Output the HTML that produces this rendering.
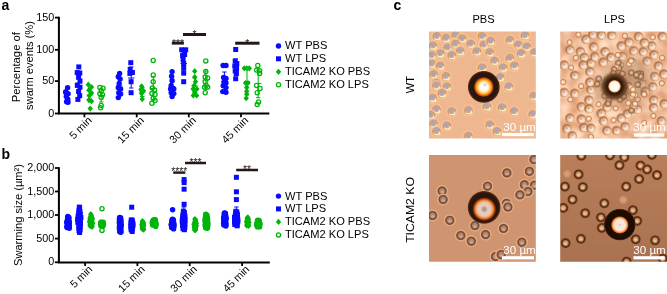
<!DOCTYPE html>
<html><head><meta charset="utf-8"><title>Figure</title>
<style>
html,body{margin:0;padding:0;background:#fff;}
body{width:667px;height:294px;overflow:hidden;}
svg{display:block;font-family:"Liberation Sans",sans-serif;fill:#000;}
</style></head><body>
<svg width="667" height="294" viewBox="0 0 667 294">
<rect width="667" height="294" fill="#fff"/>
<text x="1.6" y="9.8" font-size="14" font-weight="bold">a</text>
<path d="M58.9 16.8V113.6H269.3" stroke="#000" stroke-width="2" fill="none"/>
<path d="M54.9 17.6H58.9" stroke="#000" stroke-width="1.8"/>
<text x="54.199999999999996" y="20.6" text-anchor="end" font-size="10.8">150</text>
<path d="M54.9 49.8H58.9" stroke="#000" stroke-width="1.8"/>
<text x="54.199999999999996" y="52.8" text-anchor="end" font-size="10.8">100</text>
<path d="M54.9 81.1H58.9" stroke="#000" stroke-width="1.8"/>
<text x="54.199999999999996" y="84.1" text-anchor="end" font-size="10.8">50</text>
<path d="M54.9 113.5H58.9" stroke="#000" stroke-width="1.8"/>
<text x="54.199999999999996" y="116.5" text-anchor="end" font-size="10.8">0</text>
<path d="M84.4 113.6V117.3" stroke="#000" stroke-width="1.8"/>
<text transform="translate(92.4,121.1) rotate(-45)" text-anchor="end" font-size="10.8">5 min</text>
<path d="M136.7 113.6V117.3" stroke="#000" stroke-width="1.8"/>
<text transform="translate(144.7,121.1) rotate(-45)" text-anchor="end" font-size="10.8">15 min</text>
<path d="M188.8 113.6V117.3" stroke="#000" stroke-width="1.8"/>
<text transform="translate(196.8,121.1) rotate(-45)" text-anchor="end" font-size="10.8">30 min</text>
<path d="M241.0 113.6V117.3" stroke="#000" stroke-width="1.8"/>
<text transform="translate(249.0,121.1) rotate(-45)" text-anchor="end" font-size="10.8">45 min</text>
<text transform="translate(19.5,67.2) rotate(-90)" text-anchor="middle" font-size="11.3">Percentage of</text>
<text transform="translate(32.6,65.5) rotate(-90)" text-anchor="middle" font-size="11.1">swarm events (%)</text>
<path d="M63.8 94.5H70.2M67.0 89.0V100.0M64.8 89.0H69.2M64.8 100.0H69.2" stroke="#0a0aff" stroke-width="1" fill="none"/>
<circle cx="67.6" cy="87.8" r="2.7" fill="#0a0aff"/>
<circle cx="65.6" cy="92.0" r="2.7" fill="#0a0aff"/>
<circle cx="68.1" cy="93.8" r="2.7" fill="#0a0aff"/>
<circle cx="66.3" cy="96.6" r="2.7" fill="#0a0aff"/>
<circle cx="67.8" cy="99.2" r="2.7" fill="#0a0aff"/>
<circle cx="66.6" cy="101.8" r="2.7" fill="#0a0aff"/>
<circle cx="68.0" cy="102.3" r="2.7" fill="#0a0aff"/>
<path d="M75.5 83.0H81.9M78.7 72.5V93.5M76.5 72.5H80.9M76.5 93.5H80.9" stroke="#0a0aff" stroke-width="1" fill="none"/>
<rect x="76.3" y="64.4" width="5.0" height="5.0" fill="#0a0aff"/>
<rect x="74.7" y="70.1" width="5.0" height="5.0" fill="#0a0aff"/>
<rect x="77.3" y="70.5" width="5.0" height="5.0" fill="#0a0aff"/>
<rect x="76.1" y="74.8" width="5.0" height="5.0" fill="#0a0aff"/>
<rect x="77.5" y="78.5" width="5.0" height="5.0" fill="#0a0aff"/>
<rect x="74.8" y="82.9" width="5.0" height="5.0" fill="#0a0aff"/>
<rect x="77.5" y="84.7" width="5.0" height="5.0" fill="#0a0aff"/>
<rect x="76.1" y="89.0" width="5.0" height="5.0" fill="#0a0aff"/>
<rect x="77.2" y="93.2" width="5.0" height="5.0" fill="#0a0aff"/>
<rect x="75.4" y="96.9" width="5.0" height="5.0" fill="#0a0aff"/>
<path d="M86.8 95.0H93.2M90.0 88.0V102.0M87.8 88.0H92.2M87.8 102.0H92.2" stroke="#00b40a" stroke-width="1" fill="none"/>
<path d="M88.3 81.6L91.0 84.7L88.3 87.8L85.6 84.7Z" fill="#00b40a"/>
<path d="M91.5 83.9L94.2 87.0L91.5 90.1L88.8 87.0Z" fill="#00b40a"/>
<path d="M88.9 87.1L91.6 90.2L88.9 93.3L86.2 90.2Z" fill="#00b40a"/>
<path d="M91.5 89.8L94.2 92.9L91.5 96.0L88.8 92.9Z" fill="#00b40a"/>
<path d="M89.3 92.6L92.0 95.7L89.3 98.8L86.6 95.7Z" fill="#00b40a"/>
<path d="M88.9 96.8L91.6 99.9L88.9 103.0L86.2 99.9Z" fill="#00b40a"/>
<path d="M91.5 98.1L94.2 101.2L91.5 104.3L88.8 101.2Z" fill="#00b40a"/>
<path d="M90.2 105.5L92.9 108.6L90.2 111.7L87.5 108.6Z" fill="#00b40a"/>
<path d="M98.0 95.5H104.4M101.2 89.0V102.0M99.0 89.0H103.4M99.0 102.0H103.4" stroke="#00b40a" stroke-width="1" fill="none"/>
<circle cx="99.9" cy="87.4" r="2.1" fill="none" stroke="#00b40a" stroke-width="1.3"/>
<circle cx="103.0" cy="88.3" r="2.1" fill="none" stroke="#00b40a" stroke-width="1.3"/>
<circle cx="101.2" cy="91.1" r="2.1" fill="none" stroke="#00b40a" stroke-width="1.3"/>
<circle cx="99.9" cy="93.8" r="2.1" fill="none" stroke="#00b40a" stroke-width="1.3"/>
<circle cx="102.5" cy="94.8" r="2.1" fill="none" stroke="#00b40a" stroke-width="1.3"/>
<circle cx="101.2" cy="97.5" r="2.1" fill="none" stroke="#00b40a" stroke-width="1.3"/>
<circle cx="101.2" cy="105.4" r="2.1" fill="none" stroke="#00b40a" stroke-width="1.3"/>
<circle cx="100.6" cy="107.8" r="2.1" fill="none" stroke="#00b40a" stroke-width="1.3"/>
<path d="M116.0 86.0H122.4M119.2 78.5V93.5M117.0 78.5H121.4M117.0 93.5H121.4" stroke="#0a0aff" stroke-width="1" fill="none"/>
<circle cx="119.6" cy="73.4" r="2.7" fill="#0a0aff"/>
<circle cx="118.3" cy="76.7" r="2.7" fill="#0a0aff"/>
<circle cx="120.1" cy="79.0" r="2.7" fill="#0a0aff"/>
<circle cx="119.2" cy="83.5" r="2.7" fill="#0a0aff"/>
<circle cx="118.3" cy="87.7" r="2.7" fill="#0a0aff"/>
<circle cx="120.6" cy="89.0" r="2.7" fill="#0a0aff"/>
<circle cx="118.8" cy="92.7" r="2.7" fill="#0a0aff"/>
<circle cx="120.6" cy="94.0" r="2.7" fill="#0a0aff"/>
<circle cx="118.3" cy="97.6" r="2.7" fill="#0a0aff"/>
<path d="M128.0 78.0H134.4M131.2 67.0V88.0M129.0 67.0H133.4M129.0 88.0H133.4" stroke="#0a0aff" stroke-width="1" fill="none"/>
<rect x="128.3" y="60.2" width="5.0" height="5.0" fill="#0a0aff"/>
<rect x="127.7" y="66.8" width="5.0" height="5.0" fill="#0a0aff"/>
<rect x="129.9" y="70.0" width="5.0" height="5.0" fill="#0a0aff"/>
<rect x="127.4" y="70.9" width="5.0" height="5.0" fill="#0a0aff"/>
<rect x="128.6" y="79.2" width="5.0" height="5.0" fill="#0a0aff"/>
<rect x="128.6" y="90.2" width="5.0" height="5.0" fill="#0a0aff"/>
<path d="M139.1 92.0H145.5M142.3 87.5V96.5M140.1 87.5H144.5M140.1 96.5H144.5" stroke="#00b40a" stroke-width="1" fill="none"/>
<path d="M141.6 83.2L144.3 86.3L141.6 89.4L138.9 86.3Z" fill="#00b40a"/>
<path d="M140.9 86.5L143.6 89.6L140.9 92.7L138.2 89.6Z" fill="#00b40a"/>
<path d="M143.5 87.7L146.2 90.8L143.5 93.9L140.8 90.8Z" fill="#00b40a"/>
<path d="M141.6 90.5L144.3 93.6L141.6 96.7L138.9 93.6Z" fill="#00b40a"/>
<path d="M142.2 96.0L144.9 99.1L142.2 102.2L139.5 99.1Z" fill="#00b40a"/>
<path d="M150.1 88.5H156.5M153.3 77.0V100.0M151.1 77.0H155.5M151.1 100.0H155.5" stroke="#00b40a" stroke-width="1" fill="none"/>
<circle cx="153.2" cy="60.5" r="2.1" fill="none" stroke="#00b40a" stroke-width="1.3"/>
<circle cx="153.2" cy="74.9" r="2.1" fill="none" stroke="#00b40a" stroke-width="1.3"/>
<circle cx="153.2" cy="81.7" r="2.1" fill="none" stroke="#00b40a" stroke-width="1.3"/>
<circle cx="152.3" cy="88.1" r="2.1" fill="none" stroke="#00b40a" stroke-width="1.3"/>
<circle cx="154.5" cy="89.9" r="2.1" fill="none" stroke="#00b40a" stroke-width="1.3"/>
<circle cx="151.9" cy="93.6" r="2.1" fill="none" stroke="#00b40a" stroke-width="1.3"/>
<circle cx="155.0" cy="94.5" r="2.1" fill="none" stroke="#00b40a" stroke-width="1.3"/>
<circle cx="153.2" cy="98.2" r="2.1" fill="none" stroke="#00b40a" stroke-width="1.3"/>
<circle cx="155.0" cy="100.6" r="2.1" fill="none" stroke="#00b40a" stroke-width="1.3"/>
<circle cx="151.9" cy="103.2" r="2.1" fill="none" stroke="#00b40a" stroke-width="1.3"/>
<path d="M168.8 86.5H175.2M172.0 79.0V94.0M169.8 79.0H174.2M169.8 94.0H174.2" stroke="#0a0aff" stroke-width="1" fill="none"/>
<circle cx="172.1" cy="71.6" r="2.7" fill="#0a0aff"/>
<circle cx="171.6" cy="76.2" r="2.7" fill="#0a0aff"/>
<circle cx="172.1" cy="80.8" r="2.7" fill="#0a0aff"/>
<circle cx="171.2" cy="85.4" r="2.7" fill="#0a0aff"/>
<circle cx="170.6" cy="89.0" r="2.7" fill="#0a0aff"/>
<circle cx="173.8" cy="89.0" r="2.7" fill="#0a0aff"/>
<circle cx="171.2" cy="92.7" r="2.7" fill="#0a0aff"/>
<circle cx="173.8" cy="93.6" r="2.7" fill="#0a0aff"/>
<circle cx="172.1" cy="96.6" r="2.7" fill="#0a0aff"/>
<path d="M180.5 63.5H186.9M183.7 52.0V75.0M181.5 52.0H185.9M181.5 75.0H185.9" stroke="#0a0aff" stroke-width="1" fill="none"/>
<rect x="179.2" y="47.3" width="5.0" height="5.0" fill="#0a0aff"/>
<rect x="183.2" y="47.3" width="5.0" height="5.0" fill="#0a0aff"/>
<rect x="182.1" y="52.0" width="5.0" height="5.0" fill="#0a0aff"/>
<rect x="180.1" y="53.0" width="5.0" height="5.0" fill="#0a0aff"/>
<rect x="180.6" y="57.0" width="5.0" height="5.0" fill="#0a0aff"/>
<rect x="181.2" y="61.0" width="5.0" height="5.0" fill="#0a0aff"/>
<rect x="181.2" y="65.4" width="5.0" height="5.0" fill="#0a0aff"/>
<rect x="181.2" y="70.3" width="5.0" height="5.0" fill="#0a0aff"/>
<rect x="181.2" y="79.2" width="5.0" height="5.0" fill="#0a0aff"/>
<path d="M191.6 86.0H198.0M194.8 78.0V94.0M192.6 78.0H197.0M192.6 94.0H197.0" stroke="#00b40a" stroke-width="1" fill="none"/>
<path d="M194.7 68.1L197.4 71.2L194.7 74.3L192.0 71.2Z" fill="#00b40a"/>
<path d="M194.7 74.0L197.4 77.1L194.7 80.2L192.0 77.1Z" fill="#00b40a"/>
<path d="M195.5 78.6L198.2 81.7L195.5 84.8L192.8 81.7Z" fill="#00b40a"/>
<path d="M194.2 82.3L196.9 85.4L194.2 88.5L191.5 85.4Z" fill="#00b40a"/>
<path d="M193.1 85.9L195.8 89.0L193.1 92.1L190.4 89.0Z" fill="#00b40a"/>
<path d="M196.9 85.9L199.6 89.0L196.9 92.1L194.2 89.0Z" fill="#00b40a"/>
<path d="M194.7 89.1L197.4 92.2L194.7 95.3L192.0 92.2Z" fill="#00b40a"/>
<path d="M193.3 92.4L196.0 95.5L193.3 98.6L190.6 95.5Z" fill="#00b40a"/>
<path d="M196.6 92.4L199.3 95.5L196.6 98.6L193.9 95.5Z" fill="#00b40a"/>
<path d="M202.6 80.0H209.0M205.8 71.0V89.0M203.6 71.0H208.0M203.6 89.0H208.0" stroke="#00b40a" stroke-width="1" fill="none"/>
<circle cx="205.8" cy="60.9" r="2.1" fill="none" stroke="#00b40a" stroke-width="1.3"/>
<circle cx="205.8" cy="71.6" r="2.1" fill="none" stroke="#00b40a" stroke-width="1.3"/>
<circle cx="205.2" cy="77.1" r="2.1" fill="none" stroke="#00b40a" stroke-width="1.3"/>
<circle cx="207.6" cy="78.0" r="2.1" fill="none" stroke="#00b40a" stroke-width="1.3"/>
<circle cx="205.2" cy="81.7" r="2.1" fill="none" stroke="#00b40a" stroke-width="1.3"/>
<circle cx="206.1" cy="85.4" r="2.1" fill="none" stroke="#00b40a" stroke-width="1.3"/>
<circle cx="204.6" cy="87.2" r="2.1" fill="none" stroke="#00b40a" stroke-width="1.3"/>
<circle cx="207.6" cy="87.2" r="2.1" fill="none" stroke="#00b40a" stroke-width="1.3"/>
<circle cx="205.2" cy="92.7" r="2.1" fill="none" stroke="#00b40a" stroke-width="1.3"/>
<path d="M221.2 81.7H227.6M224.4 72.0V91.0M222.2 72.0H226.6M222.2 91.0H226.6" stroke="#0a0aff" stroke-width="1" fill="none"/>
<circle cx="223.1" cy="65.5" r="2.7" fill="#0a0aff"/>
<circle cx="226.0" cy="65.5" r="2.7" fill="#0a0aff"/>
<circle cx="223.6" cy="77.5" r="2.7" fill="#0a0aff"/>
<circle cx="226.0" cy="78.4" r="2.7" fill="#0a0aff"/>
<circle cx="224.1" cy="82.0" r="2.7" fill="#0a0aff"/>
<circle cx="226.0" cy="83.0" r="2.7" fill="#0a0aff"/>
<circle cx="223.2" cy="85.7" r="2.7" fill="#0a0aff"/>
<circle cx="226.0" cy="87.6" r="2.7" fill="#0a0aff"/>
<circle cx="222.8" cy="91.6" r="2.7" fill="#0a0aff"/>
<circle cx="226.0" cy="92.2" r="2.7" fill="#0a0aff"/>
<path d="M232.6 67.0H239.0M235.8 59.0V75.0M233.6 59.0H238.0M233.6 75.0H238.0" stroke="#0a0aff" stroke-width="1" fill="none"/>
<rect x="233.2" y="47.0" width="5.0" height="5.0" fill="#0a0aff"/>
<rect x="232.7" y="58.5" width="5.0" height="5.0" fill="#0a0aff"/>
<rect x="234.3" y="61.0" width="5.0" height="5.0" fill="#0a0aff"/>
<rect x="232.3" y="63.5" width="5.0" height="5.0" fill="#0a0aff"/>
<rect x="234.1" y="66.0" width="5.0" height="5.0" fill="#0a0aff"/>
<rect x="232.7" y="68.5" width="5.0" height="5.0" fill="#0a0aff"/>
<rect x="233.9" y="71.0" width="5.0" height="5.0" fill="#0a0aff"/>
<rect x="233.2" y="76.2" width="5.0" height="5.0" fill="#0a0aff"/>
<path d="M243.8 81.7H250.2M247.0 68.3V95.0M244.8 68.3H249.2M244.8 95.0H249.2" stroke="#00b40a" stroke-width="1" fill="none"/>
<path d="M244.3 65.2L247.0 68.3L244.3 71.4L241.6 68.3Z" fill="#00b40a"/>
<path d="M246.8 65.2L249.5 68.3L246.8 71.4L244.1 68.3Z" fill="#00b40a"/>
<path d="M249.3 65.2L252.0 68.3L249.3 71.4L246.6 68.3Z" fill="#00b40a"/>
<path d="M245.6 79.9L248.3 83.0L245.6 86.1L242.9 83.0Z" fill="#00b40a"/>
<path d="M248.0 79.9L250.7 83.0L248.0 86.1L245.3 83.0Z" fill="#00b40a"/>
<path d="M246.7 84.5L249.4 87.6L246.7 90.7L244.0 87.6Z" fill="#00b40a"/>
<path d="M246.7 88.2L249.4 91.3L246.7 94.4L244.0 91.3Z" fill="#00b40a"/>
<path d="M246.7 90.9L249.4 94.0L246.7 97.1L244.0 94.0Z" fill="#00b40a"/>
<path d="M246.2 95.1L248.9 98.2L246.2 101.3L243.5 98.2Z" fill="#00b40a"/>
<path d="M255.0 83.5H261.4M258.2 70.1V97.7M256.0 70.1H260.4M256.0 97.7H260.4" stroke="#00b40a" stroke-width="1" fill="none"/>
<circle cx="257.8" cy="65.5" r="2.1" fill="none" stroke="#00b40a" stroke-width="1.3"/>
<circle cx="256.6" cy="70.1" r="2.1" fill="none" stroke="#00b40a" stroke-width="1.3"/>
<circle cx="259.6" cy="70.7" r="2.1" fill="none" stroke="#00b40a" stroke-width="1.3"/>
<circle cx="259.6" cy="73.4" r="2.1" fill="none" stroke="#00b40a" stroke-width="1.3"/>
<circle cx="256.6" cy="85.4" r="2.1" fill="none" stroke="#00b40a" stroke-width="1.3"/>
<circle cx="260.0" cy="88.5" r="2.1" fill="none" stroke="#00b40a" stroke-width="1.3"/>
<circle cx="257.2" cy="92.7" r="2.1" fill="none" stroke="#00b40a" stroke-width="1.3"/>
<circle cx="258.5" cy="101.9" r="2.1" fill="none" stroke="#00b40a" stroke-width="1.3"/>
<circle cx="257.2" cy="104.5" r="2.1" fill="none" stroke="#00b40a" stroke-width="1.3"/>
<rect x="171.8" y="41.6" width="12.1" height="3" fill="#231815"/>
<text x="177.9" y="46.7" text-anchor="middle" font-size="10.3" fill="#231815">***</text>
<rect x="183" y="33.0" width="23.0" height="3" fill="#231815"/>
<text x="194.5" y="38.1" text-anchor="middle" font-size="10.3" fill="#231815">*</text>
<rect x="235.2" y="41.7" width="24.3" height="3" fill="#231815"/>
<text x="247.3" y="46.8" text-anchor="middle" font-size="10.3" fill="#231815">*</text>
<circle cx="278.5" cy="46.0" r="2.7" fill="#0a0aff"/>
<rect x="276.0" y="56.3" width="5.0" height="5.0" fill="#0a0aff"/>
<path d="M278.5 68.7L281.2 71.8L278.5 74.9L275.8 71.8Z" fill="#00b40a"/>
<circle cx="278.5" cy="84.8" r="2.1" fill="none" stroke="#00b40a" stroke-width="1.3"/>
<text x="285" y="49.4" font-size="11.1">WT PBS</text>
<text x="285" y="62.199999999999996" font-size="11.1">WT LPS</text>
<text x="285" y="75.2" font-size="11.1">TICAM2 KO PBS</text>
<text x="285" y="88.2" font-size="11.1">TICAM2 KO LPS</text>
<text x="1.6" y="158.5" font-size="14" font-weight="bold">b</text>
<path d="M58.9 167.3V262.4H269.8" stroke="#000" stroke-width="2" fill="none"/>
<path d="M54.9 168H58.9" stroke="#000" stroke-width="1.8"/>
<text x="54.199999999999996" y="171.0" text-anchor="end" font-size="10.8">2,000</text>
<path d="M54.9 191.5H58.9" stroke="#000" stroke-width="1.8"/>
<text x="54.199999999999996" y="194.5" text-anchor="end" font-size="10.8">1,500</text>
<path d="M54.9 215H58.9" stroke="#000" stroke-width="1.8"/>
<text x="54.199999999999996" y="218.0" text-anchor="end" font-size="10.8">1,000</text>
<path d="M54.9 238.6H58.9" stroke="#000" stroke-width="1.8"/>
<text x="54.199999999999996" y="241.6" text-anchor="end" font-size="10.8">500</text>
<path d="M54.9 262.3H58.9" stroke="#000" stroke-width="1.8"/>
<text x="54.199999999999996" y="265.3" text-anchor="end" font-size="10.8">0</text>
<path d="M85.1 262.4V266.09999999999997" stroke="#000" stroke-width="1.8"/>
<text transform="translate(93.1,269.9) rotate(-45)" text-anchor="end" font-size="10.8">5 min</text>
<path d="M137.4 262.4V266.09999999999997" stroke="#000" stroke-width="1.8"/>
<text transform="translate(145.4,269.9) rotate(-45)" text-anchor="end" font-size="10.8">15 min</text>
<path d="M189.7 262.4V266.09999999999997" stroke="#000" stroke-width="1.8"/>
<text transform="translate(197.7,269.9) rotate(-45)" text-anchor="end" font-size="10.8">30 min</text>
<path d="M242.1 262.4V266.09999999999997" stroke="#000" stroke-width="1.8"/>
<text transform="translate(250.1,269.9) rotate(-45)" text-anchor="end" font-size="10.8">45 min</text>
<text transform="translate(21.9,215) rotate(-90)" text-anchor="middle" font-size="11.1">Swarming size (µm²)</text>
<circle cx="67.7" cy="216.4" r="2.7" fill="#0a0aff"/>
<circle cx="68.7" cy="217.2" r="2.7" fill="#0a0aff"/>
<circle cx="67.7" cy="218.1" r="2.7" fill="#0a0aff"/>
<circle cx="68.9" cy="218.2" r="2.7" fill="#0a0aff"/>
<circle cx="67.5" cy="219.1" r="2.7" fill="#0a0aff"/>
<circle cx="68.9" cy="220.6" r="2.7" fill="#0a0aff"/>
<circle cx="67.2" cy="221.1" r="2.7" fill="#0a0aff"/>
<circle cx="68.9" cy="221.6" r="2.7" fill="#0a0aff"/>
<circle cx="66.7" cy="222.2" r="2.7" fill="#0a0aff"/>
<circle cx="69.4" cy="222.8" r="2.7" fill="#0a0aff"/>
<circle cx="67.3" cy="223.6" r="2.7" fill="#0a0aff"/>
<circle cx="69.2" cy="224.4" r="2.7" fill="#0a0aff"/>
<circle cx="67.4" cy="224.6" r="2.7" fill="#0a0aff"/>
<circle cx="69.1" cy="225.9" r="2.7" fill="#0a0aff"/>
<circle cx="66.9" cy="226.4" r="2.7" fill="#0a0aff"/>
<circle cx="69.3" cy="227.1" r="2.7" fill="#0a0aff"/>
<circle cx="67.0" cy="227.5" r="2.7" fill="#0a0aff"/>
<circle cx="69.3" cy="228.2" r="2.7" fill="#0a0aff"/>
<rect x="76.8" y="204.6" width="5.0" height="5.0" fill="#0a0aff"/>
<rect x="77.1" y="205.4" width="5.0" height="5.0" fill="#0a0aff"/>
<rect x="76.5" y="207.8" width="5.0" height="5.0" fill="#0a0aff"/>
<rect x="77.4" y="209.0" width="5.0" height="5.0" fill="#0a0aff"/>
<rect x="76.2" y="210.4" width="5.0" height="5.0" fill="#0a0aff"/>
<rect x="77.8" y="211.7" width="5.0" height="5.0" fill="#0a0aff"/>
<rect x="75.6" y="213.5" width="5.0" height="5.0" fill="#0a0aff"/>
<rect x="78.4" y="215.1" width="5.0" height="5.0" fill="#0a0aff"/>
<rect x="75.1" y="216.8" width="5.0" height="5.0" fill="#0a0aff"/>
<rect x="77.9" y="218.1" width="5.0" height="5.0" fill="#0a0aff"/>
<rect x="75.3" y="219.8" width="5.0" height="5.0" fill="#0a0aff"/>
<rect x="78.0" y="221.4" width="5.0" height="5.0" fill="#0a0aff"/>
<rect x="76.2" y="222.7" width="5.0" height="5.0" fill="#0a0aff"/>
<rect x="77.7" y="224.4" width="5.0" height="5.0" fill="#0a0aff"/>
<rect x="76.4" y="225.4" width="5.0" height="5.0" fill="#0a0aff"/>
<rect x="77.6" y="227.4" width="5.0" height="5.0" fill="#0a0aff"/>
<rect x="76.5" y="228.2" width="5.0" height="5.0" fill="#0a0aff"/>
<rect x="77.1" y="230.0" width="5.0" height="5.0" fill="#0a0aff"/>
<path d="M90.8 211.1L93.5 214.2L90.8 217.3L88.1 214.2Z" fill="#00b40a"/>
<path d="M91.4 212.5L94.1 215.6L91.4 218.7L88.7 215.6Z" fill="#00b40a"/>
<path d="M90.7 213.1L93.4 216.2L90.7 219.3L88.0 216.2Z" fill="#00b40a"/>
<path d="M91.7 214.0L94.4 217.1L91.7 220.2L89.0 217.1Z" fill="#00b40a"/>
<path d="M90.0 215.0L92.7 218.1L90.0 221.2L87.3 218.1Z" fill="#00b40a"/>
<path d="M92.5 215.4L95.2 218.5L92.5 221.6L89.8 218.5Z" fill="#00b40a"/>
<path d="M90.2 216.1L92.9 219.2L90.2 222.3L87.5 219.2Z" fill="#00b40a"/>
<path d="M92.0 217.2L94.7 220.3L92.0 223.4L89.3 220.3Z" fill="#00b40a"/>
<path d="M89.8 217.6L92.5 220.7L89.8 223.8L87.1 220.7Z" fill="#00b40a"/>
<path d="M92.1 218.8L94.8 221.9L92.1 225.0L89.4 221.9Z" fill="#00b40a"/>
<path d="M89.5 219.1L92.2 222.2L89.5 225.3L86.8 222.2Z" fill="#00b40a"/>
<path d="M92.6 220.2L95.3 223.3L92.6 226.4L89.9 223.3Z" fill="#00b40a"/>
<path d="M90.1 221.6L92.8 224.7L90.1 227.8L87.4 224.7Z" fill="#00b40a"/>
<path d="M92.1 222.0L94.8 225.1L92.1 228.2L89.4 225.1Z" fill="#00b40a"/>
<path d="M90.1 223.0L92.8 226.1L90.1 229.2L87.4 226.1Z" fill="#00b40a"/>
<path d="M92.1 223.7L94.8 226.8L92.1 229.9L89.4 226.8Z" fill="#00b40a"/>
<circle cx="101.1" cy="222.3" r="2.1" fill="#00b40a" fill-opacity="0.8" stroke="#00b40a" stroke-width="1.4"/>
<circle cx="103.1" cy="222.3" r="2.1" fill="#00b40a" fill-opacity="0.8" stroke="#00b40a" stroke-width="1.4"/>
<circle cx="101.1" cy="222.5" r="2.1" fill="#00b40a" fill-opacity="0.8" stroke="#00b40a" stroke-width="1.4"/>
<circle cx="103.2" cy="223.8" r="2.1" fill="#00b40a" fill-opacity="0.8" stroke="#00b40a" stroke-width="1.4"/>
<circle cx="101.1" cy="223.8" r="2.1" fill="#00b40a" fill-opacity="0.8" stroke="#00b40a" stroke-width="1.4"/>
<circle cx="103.4" cy="224.2" r="2.1" fill="#00b40a" fill-opacity="0.8" stroke="#00b40a" stroke-width="1.4"/>
<circle cx="100.7" cy="224.2" r="2.1" fill="#00b40a" fill-opacity="0.8" stroke="#00b40a" stroke-width="1.4"/>
<circle cx="102.8" cy="225.3" r="2.1" fill="#00b40a" fill-opacity="0.8" stroke="#00b40a" stroke-width="1.4"/>
<circle cx="101.0" cy="225.8" r="2.1" fill="#00b40a" fill-opacity="0.8" stroke="#00b40a" stroke-width="1.4"/>
<circle cx="102.8" cy="226.3" r="2.1" fill="#00b40a" fill-opacity="0.8" stroke="#00b40a" stroke-width="1.4"/>
<circle cx="102.0" cy="208.8" r="2.1" fill="none" stroke="#00b40a" stroke-width="1.3"/>
<circle cx="102.0" cy="230.4" r="2.1" fill="none" stroke="#00b40a" stroke-width="1.3"/>
<circle cx="119.6" cy="217.5" r="2.7" fill="#0a0aff"/>
<circle cx="120.6" cy="217.7" r="2.7" fill="#0a0aff"/>
<circle cx="119.4" cy="219.2" r="2.7" fill="#0a0aff"/>
<circle cx="120.9" cy="219.7" r="2.7" fill="#0a0aff"/>
<circle cx="119.6" cy="220.9" r="2.7" fill="#0a0aff"/>
<circle cx="120.9" cy="221.6" r="2.7" fill="#0a0aff"/>
<circle cx="119.3" cy="222.4" r="2.7" fill="#0a0aff"/>
<circle cx="121.0" cy="223.3" r="2.7" fill="#0a0aff"/>
<circle cx="119.6" cy="224.6" r="2.7" fill="#0a0aff"/>
<circle cx="121.3" cy="225.3" r="2.7" fill="#0a0aff"/>
<circle cx="119.5" cy="225.9" r="2.7" fill="#0a0aff"/>
<circle cx="120.9" cy="227.3" r="2.7" fill="#0a0aff"/>
<circle cx="119.4" cy="227.6" r="2.7" fill="#0a0aff"/>
<circle cx="120.8" cy="229.0" r="2.7" fill="#0a0aff"/>
<circle cx="119.5" cy="229.5" r="2.7" fill="#0a0aff"/>
<circle cx="120.9" cy="230.9" r="2.7" fill="#0a0aff"/>
<circle cx="119.7" cy="231.8" r="2.7" fill="#0a0aff"/>
<circle cx="120.9" cy="232.2" r="2.7" fill="#0a0aff"/>
<rect x="128.8" y="217.4" width="5.0" height="5.0" fill="#0a0aff"/>
<rect x="129.8" y="217.8" width="5.0" height="5.0" fill="#0a0aff"/>
<rect x="128.7" y="219.2" width="5.0" height="5.0" fill="#0a0aff"/>
<rect x="130.3" y="220.5" width="5.0" height="5.0" fill="#0a0aff"/>
<rect x="128.5" y="220.9" width="5.0" height="5.0" fill="#0a0aff"/>
<rect x="130.5" y="222.6" width="5.0" height="5.0" fill="#0a0aff"/>
<rect x="128.3" y="223.6" width="5.0" height="5.0" fill="#0a0aff"/>
<rect x="130.1" y="224.0" width="5.0" height="5.0" fill="#0a0aff"/>
<rect x="128.6" y="225.7" width="5.0" height="5.0" fill="#0a0aff"/>
<rect x="130.0" y="226.3" width="5.0" height="5.0" fill="#0a0aff"/>
<rect x="128.7" y="227.4" width="5.0" height="5.0" fill="#0a0aff"/>
<rect x="129.7" y="229.0" width="5.0" height="5.0" fill="#0a0aff"/>
<rect x="129.2" y="204.7" width="5.0" height="5.0" fill="#0a0aff"/>
<path d="M142.4 218.0L145.1 221.1L142.4 224.2L139.7 221.1Z" fill="#00b40a"/>
<path d="M143.5 219.5L146.2 222.6L143.5 225.7L140.8 222.6Z" fill="#00b40a"/>
<path d="M142.2 219.8L144.9 222.9L142.2 226.0L139.5 222.9Z" fill="#00b40a"/>
<path d="M143.5 221.0L146.2 224.1L143.5 227.2L140.8 224.1Z" fill="#00b40a"/>
<path d="M141.9 221.5L144.6 224.6L141.9 227.7L139.2 224.6Z" fill="#00b40a"/>
<path d="M143.8 222.1L146.5 225.2L143.8 228.3L141.1 225.2Z" fill="#00b40a"/>
<path d="M142.1 222.4L144.8 225.5L142.1 228.6L139.4 225.5Z" fill="#00b40a"/>
<path d="M143.5 223.1L146.2 226.2L143.5 229.3L140.8 226.2Z" fill="#00b40a"/>
<path d="M142.2 224.1L144.9 227.2L142.2 230.3L139.5 227.2Z" fill="#00b40a"/>
<path d="M143.4 225.1L146.1 228.2L143.4 231.3L140.7 228.2Z" fill="#00b40a"/>
<path d="M142.2 225.9L144.9 229.0L142.2 232.1L139.5 229.0Z" fill="#00b40a"/>
<path d="M143.6 226.6L146.3 229.7L143.6 232.8L140.9 229.7Z" fill="#00b40a"/>
<circle cx="153.5" cy="220.0" r="2.1" fill="#00b40a" fill-opacity="0.8" stroke="#00b40a" stroke-width="1.4"/>
<circle cx="155.2" cy="219.7" r="2.1" fill="#00b40a" fill-opacity="0.8" stroke="#00b40a" stroke-width="1.4"/>
<circle cx="153.4" cy="220.4" r="2.1" fill="#00b40a" fill-opacity="0.8" stroke="#00b40a" stroke-width="1.4"/>
<circle cx="155.3" cy="221.5" r="2.1" fill="#00b40a" fill-opacity="0.8" stroke="#00b40a" stroke-width="1.4"/>
<circle cx="152.6" cy="221.8" r="2.1" fill="#00b40a" fill-opacity="0.8" stroke="#00b40a" stroke-width="1.4"/>
<circle cx="155.5" cy="222.6" r="2.1" fill="#00b40a" fill-opacity="0.8" stroke="#00b40a" stroke-width="1.4"/>
<circle cx="152.4" cy="222.8" r="2.1" fill="#00b40a" fill-opacity="0.8" stroke="#00b40a" stroke-width="1.4"/>
<circle cx="155.9" cy="223.6" r="2.1" fill="#00b40a" fill-opacity="0.8" stroke="#00b40a" stroke-width="1.4"/>
<circle cx="153.1" cy="224.0" r="2.1" fill="#00b40a" fill-opacity="0.8" stroke="#00b40a" stroke-width="1.4"/>
<circle cx="155.8" cy="224.8" r="2.1" fill="#00b40a" fill-opacity="0.8" stroke="#00b40a" stroke-width="1.4"/>
<circle cx="152.7" cy="225.0" r="2.1" fill="#00b40a" fill-opacity="0.8" stroke="#00b40a" stroke-width="1.4"/>
<circle cx="155.7" cy="226.3" r="2.1" fill="#00b40a" fill-opacity="0.8" stroke="#00b40a" stroke-width="1.4"/>
<circle cx="172.5" cy="219.2" r="2.7" fill="#0a0aff"/>
<circle cx="173.3" cy="219.6" r="2.7" fill="#0a0aff"/>
<circle cx="172.2" cy="219.7" r="2.7" fill="#0a0aff"/>
<circle cx="173.5" cy="220.6" r="2.7" fill="#0a0aff"/>
<circle cx="171.8" cy="221.4" r="2.7" fill="#0a0aff"/>
<circle cx="173.4" cy="222.4" r="2.7" fill="#0a0aff"/>
<circle cx="171.8" cy="222.3" r="2.7" fill="#0a0aff"/>
<circle cx="173.6" cy="223.0" r="2.7" fill="#0a0aff"/>
<circle cx="171.1" cy="224.6" r="2.7" fill="#0a0aff"/>
<circle cx="174.0" cy="224.3" r="2.7" fill="#0a0aff"/>
<circle cx="171.6" cy="225.2" r="2.7" fill="#0a0aff"/>
<circle cx="174.0" cy="225.9" r="2.7" fill="#0a0aff"/>
<circle cx="171.7" cy="226.8" r="2.7" fill="#0a0aff"/>
<circle cx="173.6" cy="227.1" r="2.7" fill="#0a0aff"/>
<circle cx="171.6" cy="227.6" r="2.7" fill="#0a0aff"/>
<circle cx="173.6" cy="228.9" r="2.7" fill="#0a0aff"/>
<circle cx="172.6" cy="209.8" r="2.7" fill="#0a0aff"/>
<path d="M180.6 214.0H187.0M183.8 207.0V221.0M181.6 207.0H186.0M181.6 221.0H186.0" stroke="#0a0aff" stroke-width="1" fill="none"/>
<rect x="180.9" y="208.6" width="5.0" height="5.0" fill="#0a0aff"/>
<rect x="181.9" y="210.0" width="5.0" height="5.0" fill="#0a0aff"/>
<rect x="180.7" y="211.4" width="5.0" height="5.0" fill="#0a0aff"/>
<rect x="182.1" y="212.5" width="5.0" height="5.0" fill="#0a0aff"/>
<rect x="180.5" y="213.2" width="5.0" height="5.0" fill="#0a0aff"/>
<rect x="182.4" y="214.3" width="5.0" height="5.0" fill="#0a0aff"/>
<rect x="180.1" y="215.3" width="5.0" height="5.0" fill="#0a0aff"/>
<rect x="182.3" y="216.4" width="5.0" height="5.0" fill="#0a0aff"/>
<rect x="179.8" y="217.5" width="5.0" height="5.0" fill="#0a0aff"/>
<rect x="182.5" y="218.1" width="5.0" height="5.0" fill="#0a0aff"/>
<rect x="179.8" y="219.5" width="5.0" height="5.0" fill="#0a0aff"/>
<rect x="182.3" y="221.1" width="5.0" height="5.0" fill="#0a0aff"/>
<rect x="180.1" y="222.1" width="5.0" height="5.0" fill="#0a0aff"/>
<rect x="182.2" y="222.5" width="5.0" height="5.0" fill="#0a0aff"/>
<rect x="180.3" y="223.4" width="5.0" height="5.0" fill="#0a0aff"/>
<rect x="182.3" y="225.0" width="5.0" height="5.0" fill="#0a0aff"/>
<rect x="180.5" y="226.2" width="5.0" height="5.0" fill="#0a0aff"/>
<rect x="181.9" y="227.2" width="5.0" height="5.0" fill="#0a0aff"/>
<rect x="181.6" y="201.8" width="5.0" height="5.0" fill="#0a0aff"/>
<rect x="181.6" y="177.1" width="5.0" height="5.0" fill="#0a0aff"/>
<rect x="181.6" y="180.1" width="5.0" height="5.0" fill="#0a0aff"/>
<rect x="181.6" y="186.7" width="5.0" height="5.0" fill="#0a0aff"/>
<path d="M194.8 215.9L197.5 219.0L194.8 222.1L192.1 219.0Z" fill="#00b40a"/>
<path d="M195.6 216.7L198.3 219.8L195.6 222.9L192.9 219.8Z" fill="#00b40a"/>
<path d="M194.8 218.3L197.5 221.4L194.8 224.5L192.1 221.4Z" fill="#00b40a"/>
<path d="M195.7 218.5L198.4 221.6L195.7 224.7L193.0 221.6Z" fill="#00b40a"/>
<path d="M194.5 220.1L197.2 223.2L194.5 226.3L191.8 223.2Z" fill="#00b40a"/>
<path d="M196.4 220.1L199.1 223.2L196.4 226.3L193.7 223.2Z" fill="#00b40a"/>
<path d="M193.9 221.1L196.6 224.2L193.9 227.3L191.2 224.2Z" fill="#00b40a"/>
<path d="M196.5 222.5L199.2 225.6L196.5 228.7L193.8 225.6Z" fill="#00b40a"/>
<path d="M194.2 223.6L196.9 226.7L194.2 229.8L191.5 226.7Z" fill="#00b40a"/>
<path d="M195.8 224.3L198.5 227.4L195.8 230.5L193.1 227.4Z" fill="#00b40a"/>
<path d="M194.5 225.2L197.2 228.3L194.5 231.4L191.8 228.3Z" fill="#00b40a"/>
<path d="M195.7 226.0L198.4 229.1L195.7 232.2L193.0 229.1Z" fill="#00b40a"/>
<path d="M194.5 226.9L197.2 230.0L194.5 233.1L191.8 230.0Z" fill="#00b40a"/>
<path d="M195.5 227.0L198.2 230.1L195.5 233.2L192.8 230.1Z" fill="#00b40a"/>
<circle cx="205.8" cy="214.4" r="2.1" fill="#00b40a" fill-opacity="0.8" stroke="#00b40a" stroke-width="1.4"/>
<circle cx="206.9" cy="215.2" r="2.1" fill="#00b40a" fill-opacity="0.8" stroke="#00b40a" stroke-width="1.4"/>
<circle cx="205.6" cy="216.3" r="2.1" fill="#00b40a" fill-opacity="0.8" stroke="#00b40a" stroke-width="1.4"/>
<circle cx="207.3" cy="217.9" r="2.1" fill="#00b40a" fill-opacity="0.8" stroke="#00b40a" stroke-width="1.4"/>
<circle cx="205.4" cy="218.6" r="2.1" fill="#00b40a" fill-opacity="0.8" stroke="#00b40a" stroke-width="1.4"/>
<circle cx="207.5" cy="219.6" r="2.1" fill="#00b40a" fill-opacity="0.8" stroke="#00b40a" stroke-width="1.4"/>
<circle cx="205.0" cy="220.4" r="2.1" fill="#00b40a" fill-opacity="0.8" stroke="#00b40a" stroke-width="1.4"/>
<circle cx="207.7" cy="222.4" r="2.1" fill="#00b40a" fill-opacity="0.8" stroke="#00b40a" stroke-width="1.4"/>
<circle cx="205.4" cy="223.3" r="2.1" fill="#00b40a" fill-opacity="0.8" stroke="#00b40a" stroke-width="1.4"/>
<circle cx="207.8" cy="224.3" r="2.1" fill="#00b40a" fill-opacity="0.8" stroke="#00b40a" stroke-width="1.4"/>
<circle cx="205.2" cy="225.4" r="2.1" fill="#00b40a" fill-opacity="0.8" stroke="#00b40a" stroke-width="1.4"/>
<circle cx="207.6" cy="226.3" r="2.1" fill="#00b40a" fill-opacity="0.8" stroke="#00b40a" stroke-width="1.4"/>
<circle cx="205.7" cy="227.8" r="2.1" fill="#00b40a" fill-opacity="0.8" stroke="#00b40a" stroke-width="1.4"/>
<circle cx="207.4" cy="228.1" r="2.1" fill="#00b40a" fill-opacity="0.8" stroke="#00b40a" stroke-width="1.4"/>
<circle cx="224.4" cy="212.9" r="2.7" fill="#0a0aff"/>
<circle cx="225.4" cy="213.3" r="2.7" fill="#0a0aff"/>
<circle cx="224.3" cy="214.0" r="2.7" fill="#0a0aff"/>
<circle cx="225.6" cy="214.9" r="2.7" fill="#0a0aff"/>
<circle cx="224.1" cy="215.9" r="2.7" fill="#0a0aff"/>
<circle cx="226.0" cy="217.2" r="2.7" fill="#0a0aff"/>
<circle cx="223.6" cy="217.7" r="2.7" fill="#0a0aff"/>
<circle cx="226.2" cy="218.7" r="2.7" fill="#0a0aff"/>
<circle cx="223.8" cy="219.8" r="2.7" fill="#0a0aff"/>
<circle cx="225.6" cy="220.3" r="2.7" fill="#0a0aff"/>
<circle cx="223.8" cy="221.5" r="2.7" fill="#0a0aff"/>
<circle cx="225.7" cy="222.1" r="2.7" fill="#0a0aff"/>
<circle cx="223.6" cy="223.2" r="2.7" fill="#0a0aff"/>
<circle cx="226.1" cy="223.9" r="2.7" fill="#0a0aff"/>
<circle cx="223.8" cy="225.1" r="2.7" fill="#0a0aff"/>
<circle cx="225.9" cy="226.0" r="2.7" fill="#0a0aff"/>
<path d="M233.2 214.0H239.6M236.4 207.0V221.0M234.2 207.0H238.6M234.2 221.0H238.6" stroke="#0a0aff" stroke-width="1" fill="none"/>
<rect x="233.3" y="208.8" width="5.0" height="5.0" fill="#0a0aff"/>
<rect x="234.3" y="209.5" width="5.0" height="5.0" fill="#0a0aff"/>
<rect x="233.1" y="210.9" width="5.0" height="5.0" fill="#0a0aff"/>
<rect x="234.8" y="211.7" width="5.0" height="5.0" fill="#0a0aff"/>
<rect x="232.9" y="212.5" width="5.0" height="5.0" fill="#0a0aff"/>
<rect x="235.0" y="213.2" width="5.0" height="5.0" fill="#0a0aff"/>
<rect x="232.0" y="214.7" width="5.0" height="5.0" fill="#0a0aff"/>
<rect x="234.9" y="215.9" width="5.0" height="5.0" fill="#0a0aff"/>
<rect x="232.5" y="216.2" width="5.0" height="5.0" fill="#0a0aff"/>
<rect x="235.3" y="217.2" width="5.0" height="5.0" fill="#0a0aff"/>
<rect x="232.0" y="218.9" width="5.0" height="5.0" fill="#0a0aff"/>
<rect x="235.3" y="219.3" width="5.0" height="5.0" fill="#0a0aff"/>
<rect x="232.5" y="220.3" width="5.0" height="5.0" fill="#0a0aff"/>
<rect x="234.6" y="221.7" width="5.0" height="5.0" fill="#0a0aff"/>
<rect x="232.3" y="222.1" width="5.0" height="5.0" fill="#0a0aff"/>
<rect x="234.7" y="223.3" width="5.0" height="5.0" fill="#0a0aff"/>
<rect x="233.9" y="174.8" width="5.0" height="5.0" fill="#0a0aff"/>
<rect x="233.9" y="189.3" width="5.0" height="5.0" fill="#0a0aff"/>
<rect x="233.9" y="197.1" width="5.0" height="5.0" fill="#0a0aff"/>
<path d="M247.4 214.4L250.1 217.5L247.4 220.6L244.7 217.5Z" fill="#00b40a"/>
<path d="M248.1 214.6L250.8 217.7L248.1 220.8L245.4 217.7Z" fill="#00b40a"/>
<path d="M247.1 215.8L249.8 218.9L247.1 222.0L244.4 218.9Z" fill="#00b40a"/>
<path d="M248.5 216.4L251.2 219.5L248.5 222.6L245.8 219.5Z" fill="#00b40a"/>
<path d="M246.9 217.9L249.6 221.0L246.9 224.1L244.2 221.0Z" fill="#00b40a"/>
<path d="M248.5 218.3L251.2 221.4L248.5 224.5L245.8 221.4Z" fill="#00b40a"/>
<path d="M246.5 218.8L249.2 221.9L246.5 225.0L243.8 221.9Z" fill="#00b40a"/>
<path d="M249.0 219.5L251.7 222.6L249.0 225.7L246.3 222.6Z" fill="#00b40a"/>
<path d="M247.0 221.0L249.7 224.1L247.0 227.2L244.3 224.1Z" fill="#00b40a"/>
<path d="M248.6 221.9L251.3 225.0L248.6 228.1L245.9 225.0Z" fill="#00b40a"/>
<path d="M246.7 222.5L249.4 225.6L246.7 228.7L244.0 225.6Z" fill="#00b40a"/>
<path d="M248.6 222.8L251.3 225.9L248.6 229.0L245.9 225.9Z" fill="#00b40a"/>
<circle cx="257.7" cy="220.3" r="2.1" fill="#00b40a" fill-opacity="0.8" stroke="#00b40a" stroke-width="1.4"/>
<circle cx="259.1" cy="220.5" r="2.1" fill="#00b40a" fill-opacity="0.8" stroke="#00b40a" stroke-width="1.4"/>
<circle cx="257.4" cy="221.8" r="2.1" fill="#00b40a" fill-opacity="0.8" stroke="#00b40a" stroke-width="1.4"/>
<circle cx="259.0" cy="222.0" r="2.1" fill="#00b40a" fill-opacity="0.8" stroke="#00b40a" stroke-width="1.4"/>
<circle cx="257.2" cy="222.6" r="2.1" fill="#00b40a" fill-opacity="0.8" stroke="#00b40a" stroke-width="1.4"/>
<circle cx="259.8" cy="223.5" r="2.1" fill="#00b40a" fill-opacity="0.8" stroke="#00b40a" stroke-width="1.4"/>
<circle cx="257.2" cy="223.9" r="2.1" fill="#00b40a" fill-opacity="0.8" stroke="#00b40a" stroke-width="1.4"/>
<circle cx="259.8" cy="224.6" r="2.1" fill="#00b40a" fill-opacity="0.8" stroke="#00b40a" stroke-width="1.4"/>
<circle cx="256.7" cy="224.8" r="2.1" fill="#00b40a" fill-opacity="0.8" stroke="#00b40a" stroke-width="1.4"/>
<circle cx="259.2" cy="225.9" r="2.1" fill="#00b40a" fill-opacity="0.8" stroke="#00b40a" stroke-width="1.4"/>
<circle cx="257.4" cy="226.8" r="2.1" fill="#00b40a" fill-opacity="0.8" stroke="#00b40a" stroke-width="1.4"/>
<circle cx="259.6" cy="226.8" r="2.1" fill="#00b40a" fill-opacity="0.8" stroke="#00b40a" stroke-width="1.4"/>
<rect x="173.2" y="171.4" width="12.1" height="2.4" fill="#231815"/>
<text x="179.2" y="175.4" text-anchor="middle" font-size="10.3" fill="#231815">****</text>
<rect x="185.0" y="161.75" width="21.0" height="2.5" fill="#231815"/>
<text x="195.5" y="165.6" text-anchor="middle" font-size="10.3" fill="#231815">***</text>
<rect x="236.2" y="168.75" width="21.8" height="2.5" fill="#231815"/>
<text x="247.1" y="172.8" text-anchor="middle" font-size="10.3" fill="#231815">**</text>
<circle cx="278.5" cy="196.1" r="2.7" fill="#0a0aff"/>
<rect x="276.0" y="206.4" width="5.0" height="5.0" fill="#0a0aff"/>
<path d="M278.5 218.8L281.2 221.9L278.5 225.0L275.8 221.9Z" fill="#00b40a"/>
<circle cx="278.5" cy="234.9" r="2.1" fill="none" stroke="#00b40a" stroke-width="1.3"/>
<text x="285" y="199.5" font-size="11.1">WT PBS</text>
<text x="285" y="212.3" font-size="11.1">WT LPS</text>
<text x="285" y="225.3" font-size="11.1">TICAM2 KO PBS</text>
<text x="285" y="238.29999999999998" font-size="11.1">TICAM2 KO LPS</text>
<text x="393.6" y="9.9" font-size="14" font-weight="bold">c</text>
<text x="483.5" y="22.9" text-anchor="middle" font-size="11.1">PBS</text>
<text x="614.5" y="22.9" text-anchor="middle" font-size="11.1">LPS</text>
<text transform="translate(414.3,84.6) rotate(-90)" text-anchor="middle" font-size="11.1">WT</text>
<text transform="translate(414.4,210) rotate(-90) scale(1.1,1)" text-anchor="middle" font-size="11.1">TICAM2 KO</text>
<defs>
<radialGradient id="gA" cx="0.5" cy="0.5" r="0.5">
 <stop offset="0" stop-color="#d88c48"/><stop offset="0.58" stop-color="#dc9250"/><stop offset="0.68" stop-color="#efb484" stop-opacity="0.9"/><stop offset="0.84" stop-color="#f7c9a4" stop-opacity="0.65"/><stop offset="1" stop-color="#f4c29a" stop-opacity="0"/>
</radialGradient>
<radialGradient id="gA2" cx="0.45" cy="0.42" r="0.6">
 <stop offset="0" stop-color="#aca0b0"/><stop offset="0.6" stop-color="#b8a6aa"/><stop offset="1" stop-color="#cfac94"/>
</radialGradient>
<g id="cA"><circle r="6.6" fill="url(#gA)"/><ellipse cx="0.5" cy="1.6" rx="3.4" ry="2.5" fill="#ffedb8"/><circle cx="-0.2" cy="-0.6" r="3.1" fill="url(#gA2)"/></g>
<radialGradient id="gB" cx="0.5" cy="0.5" r="0.5">
 <stop offset="0" stop-color="#fcead6"/><stop offset="0.42" stop-color="#f4d4b6"/><stop offset="0.62" stop-color="#d4966a"/><stop offset="0.76" stop-color="#c07c4c" stop-opacity="0.8"/><stop offset="1" stop-color="#d89868" stop-opacity="0"/>
</radialGradient>
<radialGradient id="gB3" cx="0.55" cy="0.6" r="0.55"><stop offset="0" stop-color="#fdeedc"/><stop offset="0.5" stop-color="#f6d8bc"/><stop offset="0.85" stop-color="#e8b48c"/><stop offset="1" stop-color="#d89868"/></radialGradient>
<radialGradient id="gB4" cx="0.5" cy="0.5" r="0.5"><stop offset="0.6" stop-color="#a8683c" stop-opacity="0.9"/><stop offset="0.8" stop-color="#b87848" stop-opacity="0.7"/><stop offset="1" stop-color="#d09060" stop-opacity="0"/></radialGradient>
<g id="cB"><circle cx="-0.3" cy="-0.3" r="5.4" fill="url(#gB4)"/><circle cx="0.4" cy="0.4" r="3.7" fill="url(#gB3)"/><circle cx="-0.4" cy="-0.8" r="1.5" fill="#b8a4b4" opacity="0.7"/></g>
<g id="cB2"><circle r="3.6" fill="url(#gB)"/></g>
<radialGradient id="gBk" cx="0.5" cy="0.5" r="0.5">
 <stop offset="0" stop-color="#f0cca8"/><stop offset="0.4" stop-color="#c89a78"/><stop offset="0.7" stop-color="#8a5a3a" stop-opacity="0.8"/><stop offset="1" stop-color="#9a6a48" stop-opacity="0"/>
</radialGradient>
<g id="cBk"><circle r="4" fill="url(#gBk)"/></g>
<filter id="tex2" x="0" y="0" width="100%" height="100%" color-interpolation-filters="sRGB"><feTurbulence type="fractalNoise" baseFrequency="0.1" numOctaves="1" seed="4"/><feColorMatrix type="matrix" values="0.26 0 0 0 0.815  0.5 0 0 0 0.50  0.6 0 0 0 0.315  0 0 0 0 1"/></filter>
<radialGradient id="gC" cx="0.5" cy="0.5" r="0.5">
 <stop offset="0" stop-color="#b8927e"/><stop offset="0.36" stop-color="#aa826c"/><stop offset="0.54" stop-color="#7a4a30"/><stop offset="0.64" stop-color="#82523a"/><stop offset="0.76" stop-color="#e2a87e"/><stop offset="0.88" stop-color="#e8b088" stop-opacity="0.7"/><stop offset="1" stop-color="#cf9470" stop-opacity="0"/>
</radialGradient>
<g id="cC"><circle r="6.6" fill="url(#gC)"/><ellipse cx="0.2" cy="1.0" rx="1.8" ry="1.2" fill="#ccb0a8" opacity="0.8"/></g>
<radialGradient id="gD" cx="0.5" cy="0.5" r="0.5">
 <stop offset="0" stop-color="#dcae84"/><stop offset="0.34" stop-color="#c8946a"/><stop offset="0.56" stop-color="#5a2a12"/><stop offset="0.7" stop-color="#66361a"/><stop offset="0.84" stop-color="#a86c44" stop-opacity="0.6"/><stop offset="1" stop-color="#b27a57" stop-opacity="0"/>
</radialGradient>
<g id="cD"><circle r="6.4" fill="url(#gD)"/><ellipse cx="-0.2" cy="0.6" rx="1.6" ry="1.2" fill="#f4d8b0" opacity="0.55"/></g>
<radialGradient id="gDg" cx="0.5" cy="0.5" r="0.5">
 <stop offset="0" stop-color="#dca478"/><stop offset="0.6" stop-color="#d09468" stop-opacity="0.9"/><stop offset="0.8" stop-color="#b87850" stop-opacity="0.6"/><stop offset="1" stop-color="#b27a57" stop-opacity="0"/>
</radialGradient>
<g id="cDg"><circle r="5.6" fill="url(#gDg)"/></g>

<radialGradient id="dk1"><stop offset="0" stop-color="#2a1208"/><stop offset="0.86" stop-color="#2c1409"/><stop offset="0.94" stop-color="#5a3018"/><stop offset="1" stop-color="#a06a48" stop-opacity="0"/></radialGradient>
<radialGradient id="br1"><stop offset="0" stop-color="#fff"/><stop offset="0.4" stop-color="#fffae6"/><stop offset="0.58" stop-color="#ffd468"/><stop offset="0.74" stop-color="#ff921a"/><stop offset="0.88" stop-color="#c04c0c"/><stop offset="1" stop-color="#2c1409"/></radialGradient>
<radialGradient id="dk2"><stop offset="0" stop-color="#2a1408"/><stop offset="0.55" stop-color="#3a2010"/><stop offset="0.78" stop-color="#6a4024" stop-opacity="0.85"/><stop offset="1" stop-color="#a87048" stop-opacity="0"/></radialGradient>
<radialGradient id="br2"><stop offset="0" stop-color="#fff"/><stop offset="0.7" stop-color="#fffaf0"/><stop offset="0.85" stop-color="#ffb060"/><stop offset="1" stop-color="#3a2010"/></radialGradient>
<radialGradient id="br3"><stop offset="0" stop-color="#a89080"/><stop offset="0.14" stop-color="#b89c8c"/><stop offset="0.3" stop-color="#e4ccc0"/><stop offset="0.55" stop-color="#e8c8b8"/><stop offset="0.68" stop-color="#f0a868"/><stop offset="0.8" stop-color="#e06818"/><stop offset="0.92" stop-color="#7a2c08"/><stop offset="1" stop-color="#2c1409"/></radialGradient>
<radialGradient id="dk4"><stop offset="0" stop-color="#1a0804"/><stop offset="0.88" stop-color="#1c0a05"/><stop offset="0.95" stop-color="#4a2410"/><stop offset="1" stop-color="#8a5430" stop-opacity="0"/></radialGradient>
<radialGradient id="br4"><stop offset="0" stop-color="#c0a098"/><stop offset="0.12" stop-color="#f8e4dc"/><stop offset="0.6" stop-color="#ffe8dc"/><stop offset="0.76" stop-color="#ffb070"/><stop offset="0.88" stop-color="#f06a18"/><stop offset="1" stop-color="#1c0a05"/></radialGradient>
<filter id="soft" x="-5%" y="-5%" width="110%" height="110%"><feGaussianBlur stdDeviation="0.45"/></filter>
<linearGradient id="bg4" x1="0" y1="0" x2="0" y2="1"><stop offset="0" stop-color="#b97f5b"/><stop offset="1" stop-color="#a97150"/></linearGradient>
<radialGradient id="clu"><stop offset="0" stop-color="#a07858" stop-opacity="0.6"/><stop offset="0.6" stop-color="#a88060" stop-opacity="0.4"/><stop offset="1" stop-color="#c09070" stop-opacity="0"/></radialGradient>
<clipPath id="k1"><rect x="429" y="31.4" width="106.8" height="107"/></clipPath>
<clipPath id="k2"><rect x="560.2" y="31.4" width="107" height="107"/></clipPath>
<clipPath id="k3"><rect x="429" y="154.9" width="106.8" height="106.9"/></clipPath>
<clipPath id="k4"><rect x="560.2" y="154.9" width="107" height="106.9"/></clipPath>
</defs>
<g clip-path="url(#k1)"><g filter="url(#soft)">
<rect x="429" y="31" width="108" height="109" fill="#eeb78f"/>
<use href="#cA" x="436.8" y="36.4"/>
<use href="#cA" x="446.0" y="38.3"/>
<use href="#cA" x="455.5" y="35.5"/>
<use href="#cA" x="462.1" y="38.7"/>
<use href="#cA" x="433.0" y="45.9"/>
<use href="#cA" x="447.5" y="47.8"/>
<use href="#cA" x="455.5" y="44.0"/>
<use href="#cA" x="460.2" y="51.3"/>
<use href="#cA" x="470.7" y="44.0"/>
<use href="#cA" x="482.1" y="36.4"/>
<use href="#cA" x="484.0" y="45.0"/>
<use href="#cA" x="490.7" y="41.2"/>
<use href="#cA" x="440.2" y="53.6"/>
<use href="#cA" x="451.7" y="55.5"/>
<use href="#cA" x="476.8" y="51.7"/>
<use href="#cA" x="489.8" y="52.6"/>
<use href="#cA" x="431.7" y="55.5"/>
<use href="#cA" x="431.7" y="64.0"/>
<use href="#cA" x="440.2" y="65.9"/>
<use href="#cA" x="433.6" y="74.5"/>
<use href="#cA" x="446.0" y="76.4"/>
<use href="#cA" x="494.5" y="61.2"/>
<use href="#cA" x="482.1" y="67.8"/>
<use href="#cA" x="503.1" y="67.8"/>
<use href="#cA" x="509.8" y="58.3"/>
<use href="#cA" x="514.5" y="65.9"/>
<use href="#cA" x="509.8" y="40.2"/>
<use href="#cA" x="518.3" y="45.0"/>
<use href="#cA" x="526.9" y="46.9"/>
<use href="#cA" x="521.2" y="53.6"/>
<use href="#cA" x="525.0" y="35.5"/>
<use href="#cA" x="534.5" y="52.6"/>
<use href="#cA" x="500.2" y="77.4"/>
<use href="#cA" x="436.4" y="83.1"/>
<use href="#cA" x="446.9" y="86.7"/>
<use href="#cA" x="436.4" y="85.8"/>
<use href="#cA" x="432.6" y="98.1"/>
<use href="#cA" x="442.1" y="93.4"/>
<use href="#cA" x="436.4" y="109.6"/>
<use href="#cA" x="430.7" y="115.3"/>
<use href="#cA" x="451.7" y="111.5"/>
<use href="#cA" x="468.4" y="110.5"/>
<use href="#cA" x="433.6" y="123.8"/>
<use href="#cA" x="446.9" y="125.8"/>
<use href="#cA" x="436.4" y="131.5"/>
<use href="#cA" x="486.9" y="106.7"/>
<use href="#cA" x="502.1" y="107.7"/>
<use href="#cA" x="514.1" y="111.5"/>
<use href="#cA" x="489.8" y="124.8"/>
<use href="#cA" x="497.0" y="131.5"/>
<use href="#cA" x="468.4" y="136.2"/>
<use href="#cA" x="533.6" y="96.2"/>
<use href="#cA" x="532.6" y="114.3"/>
<use href="#cA" x="508.8" y="86.7"/>
<circle cx="483.8" cy="86.9" r="16.4" fill="url(#dk1)"/><circle cx="483.8" cy="87" r="10.2" fill="url(#br1)"/>
<circle cx="485" cy="84.8" r="1.5" fill="#c0c0e8" opacity="0.7"/>
</g>
<rect x="502.1" y="133.0" width="31.6" height="3.2" fill="#fff"/>
<text x="519.5" y="130.9" text-anchor="middle" font-size="11.6" fill="#fff">30 µm</text>
</g>
<g clip-path="url(#k2)"><g filter="url(#soft)">
<rect x="560" y="31" width="108" height="109" fill="#e9ae88"/>
<rect x="560" y="31" width="108" height="109" filter="url(#tex2)"/>
<use href="#cB" x="586.2" y="39.4"/>
<use href="#cB" x="592.9" y="34.7"/>
<use href="#cB" x="601.4" y="35.2"/>
<use href="#cB" x="611.9" y="35.6"/>
<use href="#cB" x="570.0" y="49.9"/>
<use href="#cB" x="580.5" y="51.8"/>
<use href="#cB" x="593.8" y="47.0"/>
<use href="#cB" x="605.2" y="51.8"/>
<use href="#cB" x="584.3" y="57.5"/>
<use href="#cB" x="611.0" y="57.5"/>
<use href="#cB" x="621.4" y="46.1"/>
<use href="#cB" x="629.0" y="42.3"/>
<use href="#cB" x="622.4" y="56.6"/>
<use href="#cB" x="633.8" y="50.9"/>
<use href="#cB" x="643.3" y="51.8"/>
<use href="#cB" x="638.6" y="36.6"/>
<use href="#cB" x="651.9" y="46.1"/>
<use href="#cB" x="662.4" y="36.6"/>
<use href="#cB" x="564.3" y="65.1"/>
<use href="#cB" x="583.3" y="65.1"/>
<use href="#cB" x="591.0" y="63.2"/>
<use href="#cB" x="603.3" y="62.3"/>
<use href="#cB" x="647.1" y="61.3"/>
<use href="#cB" x="658.6" y="66.1"/>
<use href="#cB" x="631.9" y="62.3"/>
<use href="#cB" x="654.8" y="76.6"/>
<use href="#cB" x="574.8" y="75.6"/>
<use href="#cB" x="590.0" y="71.8"/>
<use href="#cB" x="564.3" y="92.6"/>
<use href="#cB" x="574.8" y="93.5"/>
<use href="#cB" x="591.0" y="89.7"/>
<use href="#cB" x="589.0" y="100.2"/>
<use href="#cB" x="581.4" y="106.9"/>
<use href="#cB" x="589.0" y="108.8"/>
<use href="#cB" x="607.1" y="106.9"/>
<use href="#cB" x="601.4" y="113.5"/>
<use href="#cB" x="581.4" y="119.2"/>
<use href="#cB" x="570.0" y="118.3"/>
<use href="#cB" x="621.4" y="118.3"/>
<use href="#cB" x="633.8" y="105.9"/>
<use href="#cB" x="653.8" y="100.2"/>
<use href="#cB" x="653.8" y="107.8"/>
<use href="#cB" x="652.9" y="86.9"/>
<use href="#cB" x="607.1" y="130.7"/>
<use href="#cB" x="616.7" y="130.7"/>
<use href="#cB" x="625.2" y="126.9"/>
<use href="#cB" x="664.3" y="104.0"/>
<use href="#cB" x="637.6" y="109.7"/>
<use href="#cB" x="630.0" y="96.4"/>
<use href="#cB" x="567.1" y="128.8"/>
<use href="#cB2" x="581.2" y="86.2"/>
<use href="#cB" x="644.5" y="42.8"/>
<use href="#cB2" x="578.4" y="34.6"/>
<use href="#cB2" x="590.9" y="136.8"/>
<use href="#cB" x="594.8" y="56.9"/>
<use href="#cB" x="603.6" y="121.0"/>
<use href="#cB" x="661.6" y="121.1"/>
<use href="#cB" x="583.8" y="127.7"/>
<use href="#cB" x="664.0" y="74.3"/>
<use href="#cB" x="627.5" y="114.0"/>
<use href="#cB2" x="571.1" y="67.6"/>
<use href="#cB" x="654.0" y="54.9"/>
<use href="#cB" x="572.4" y="135.9"/>
<use href="#cB2" x="569.6" y="42.4"/>
<use href="#cB2" x="661.8" y="83.3"/>
<use href="#cB2" x="662.1" y="57.8"/>
<use href="#cB2" x="588.7" y="118.7"/>
<use href="#cB" x="591.1" y="128.4"/>
<use href="#cB2" x="598.6" y="104.3"/>
<use href="#cB2" x="644.2" y="122.8"/>
<use href="#cB2" x="570.3" y="99.5"/>
<use href="#cB2" x="613.6" y="120.1"/>
<use href="#cB2" x="652.8" y="37.3"/>
<use href="#cB2" x="621.3" y="65.1"/>
<use href="#cB2" x="563.1" y="82.1"/>
<use href="#cB2" x="640.6" y="73.9"/>
<use href="#cB2" x="653.4" y="115.9"/>
<use href="#cB" x="641.9" y="83.7"/>
<use href="#cB2" x="615.7" y="108.3"/>
<use href="#cB2" x="637.8" y="99.4"/>
<use href="#cB2" x="624.9" y="35.9"/>
<use href="#cB" x="645.3" y="91.5"/>
<use href="#cB" x="590.0" y="82.2"/>
<use href="#cB2" x="575.9" y="57.9"/>
<ellipse cx="632" cy="80" rx="24" ry="30" fill="url(#clu)"/>
<circle cx="614.5" cy="86.4" r="24" fill="url(#clu)"/>
<use href="#cB2" x="623.2" y="76.4"/>
<use href="#cBk" x="640.8" y="73.8"/>
<use href="#cBk" x="638.1" y="73.7"/>
<use href="#cB2" x="629.0" y="64.0"/>
<use href="#cBk" x="622.8" y="97.3"/>
<use href="#cB2" x="635.3" y="95.1"/>
<use href="#cBk" x="621.0" y="75.6"/>
<use href="#cBk" x="618.4" y="63.0"/>
<use href="#cBk" x="628.8" y="85.3"/>
<use href="#cB2" x="631.1" y="61.0"/>
<use href="#cBk" x="623.5" y="96.0"/>
<use href="#cB2" x="628.3" y="103.1"/>
<use href="#cBk" x="631.4" y="72.7"/>
<use href="#cBk" x="637.1" y="76.2"/>
<use href="#cBk" x="644.0" y="94.0"/>
<use href="#cBk" x="640.7" y="76.4"/>
<use href="#cBk" x="622.3" y="73.9"/>
<use href="#cB2" x="617.9" y="55.0"/>
<use href="#cB2" x="644.2" y="94.4"/>
<use href="#cBk" x="636.4" y="74.8"/>
<use href="#cBk" x="631.5" y="110.5"/>
<use href="#cB2" x="634.5" y="106.1"/>
<use href="#cB2" x="632.0" y="96.8"/>
<use href="#cB2" x="635.1" y="103.8"/>
<use href="#cB2" x="633.1" y="94.6"/>
<use href="#cBk" x="619.1" y="68.1"/>
<use href="#cB2" x="616.4" y="67.3"/>
<use href="#cB2" x="630.8" y="87.4"/>
<use href="#cB2" x="633.0" y="89.5"/>
<use href="#cBk" x="637.7" y="84.6"/>
<use href="#cBk" x="614.3" y="69.5"/>
<use href="#cBk" x="598.7" y="78.7"/>
<use href="#cBk" x="613.4" y="73.3"/>
<use href="#cBk" x="597.2" y="84.0"/>
<use href="#cBk" x="608.8" y="100.7"/>
<use href="#cBk" x="619.8" y="99.5"/>
<use href="#cBk" x="604.6" y="95.7"/>
<use href="#cBk" x="608.0" y="103.7"/>
<circle cx="614.5" cy="86.4" r="15.5" fill="url(#dk2)"/><circle cx="614.5" cy="86.4" r="6.6" fill="url(#br2)"/>
</g>
<rect x="633.8" y="133.4" width="30.5" height="3.2" fill="#fff"/>
<text x="649.5" y="131.3" text-anchor="middle" font-size="11.6" fill="#fff">30 µm</text>
</g>
<g clip-path="url(#k3)"><g filter="url(#soft)">
<rect x="429" y="154" width="108" height="109" fill="#cf9470"/>
<use href="#cC" x="506.9" y="172.9"/>
<use href="#cC" x="529.4" y="171.3"/>
<use href="#cC" x="534.0" y="159.5"/>
<use href="#cC" x="487.5" y="186.2"/>
<use href="#cC" x="442.1" y="191.0"/>
<use href="#cC" x="443.1" y="199.5"/>
<use href="#cC" x="524.4" y="184.7"/>
<use href="#cC" x="534.5" y="185.2"/>
<use href="#cC" x="527.9" y="191.5"/>
<use href="#cC" x="519.9" y="194.8"/>
<use href="#cC" x="506.5" y="203.3"/>
<use href="#cC" x="432.6" y="215.5"/>
<use href="#cC" x="449.8" y="220.3"/>
<use href="#cC" x="474.9" y="225.6"/>
<use href="#cC" x="460.8" y="235.5"/>
<use href="#cC" x="471.3" y="241.2"/>
<use href="#cC" x="485.6" y="234.6"/>
<use href="#cC" x="503.5" y="228.5"/>
<use href="#cC" x="521.8" y="242.2"/>
<use href="#cC" x="495.5" y="256.5"/>
<use href="#cC" x="507.9" y="207.0"/>
<use href="#cC" x="501.2" y="254.6"/>
<circle cx="484.1" cy="207.4" r="16.9" fill="url(#dk1)"/><circle cx="484.3" cy="209.2" r="12" fill="url(#br3)"/>
</g>
<rect x="502" y="256.2" width="32.0" height="3.2" fill="#fff"/>
<text x="519.5" y="254.10000000000002" text-anchor="middle" font-size="11.6" fill="#fff">30 µm</text>
</g>
<g clip-path="url(#k4)"><g filter="url(#soft)">
<rect x="560" y="154" width="108" height="109" fill="url(#bg4)"/>
<use href="#cD" x="581.4" y="155.7"/>
<use href="#cD" x="610.0" y="155.3"/>
<use href="#cD" x="624.3" y="157.2"/>
<use href="#cD" x="651.9" y="154.8"/>
<use href="#cD" x="619.5" y="165.2"/>
<use href="#cD" x="640.5" y="165.6"/>
<use href="#cD" x="647.1" y="169.4"/>
<use href="#cD" x="578.6" y="174.4"/>
<use href="#cD" x="657.0" y="175.1"/>
<use href="#cD" x="639.1" y="179.0"/>
<use href="#cD" x="564.9" y="186.6"/>
<use href="#cD" x="582.8" y="187.1"/>
<use href="#cD" x="626.2" y="186.6"/>
<use href="#cD" x="572.5" y="199.5"/>
<use href="#cD" x="604.3" y="203.3"/>
<use href="#cDg" x="567.1" y="173.8"/>
<use href="#cDg" x="623.3" y="199.9"/>
<use href="#cD" x="563.3" y="207.9"/>
<use href="#cD" x="585.2" y="213.2"/>
<use href="#cD" x="601.0" y="217.4"/>
<use href="#cD" x="632.9" y="210.2"/>
<use href="#cD" x="637.2" y="220.9"/>
<use href="#cD" x="601.8" y="227.9"/>
<use href="#cD" x="580.9" y="238.8"/>
<use href="#cD" x="565.6" y="243.1"/>
<use href="#cD" x="635.7" y="239.3"/>
<use href="#cD" x="655.1" y="240.3"/>
<use href="#cD" x="662.8" y="258.6"/>
<use href="#cD" x="626.6" y="261.6"/>
<circle cx="619.8" cy="224.6" r="16.2" fill="url(#dk4)"/><circle cx="619.8" cy="225" r="9.0" fill="url(#br4)"/>
</g>
<rect x="633.4" y="256.2" width="31.3" height="3.2" fill="#fff"/>
<text x="649.5" y="254.10000000000002" text-anchor="middle" font-size="11.6" fill="#fff">30 µm</text>
</g>
</svg>
</body></html>
